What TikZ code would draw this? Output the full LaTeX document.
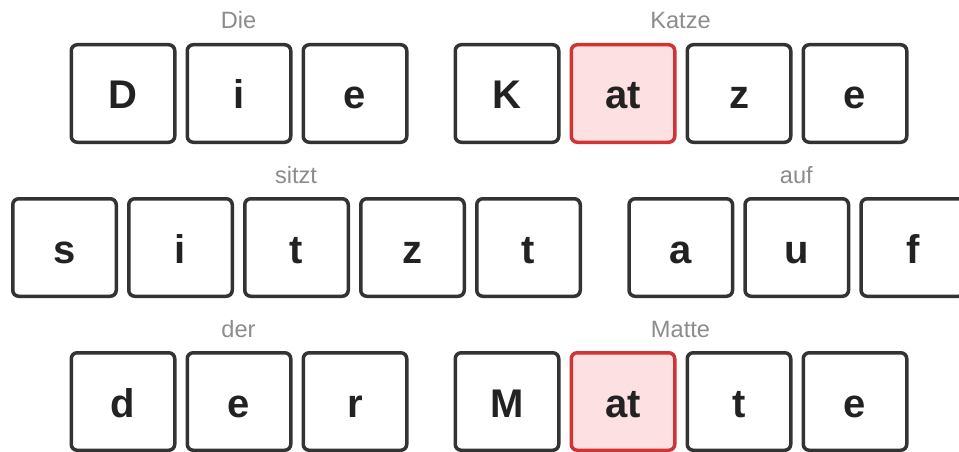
\documentclass[tikz,border=0pt]{standalone}
\usepackage{fontspec}
\setmainfont{Liberation Sans}
\definecolor{boxline}{HTML}{333333}
\definecolor{lettercol}{HTML}{222222}
\definecolor{hiline}{HTML}{D03434}
\definecolor{hifill}{HTML}{FDE0E1}
\definecolor{wordcol}{HTML}{8C8C8C}
\tikzset{
  tile/.style={draw=boxline, line width=3.5pt, rounded corners=6pt, fill=white,
    minimum width=103.5pt, minimum height=97.5pt, inner sep=0pt,
    text height=31pt, text depth=0pt, text=lettercol,
    font=\fontsize{40}{40}\selectfont\bfseries},
  hitile/.style={tile, draw=hiline, fill=hifill},
  word/.style={anchor=base, text=wordcol, inner sep=0pt,
    font=\fontsize{23.6}{24}\selectfont}
}
\begin{document}
\begin{tikzpicture}[x=1pt,y=1pt]
\useasboundingbox (0,0) rectangle (959,451);
\clip (0,0) rectangle (959,451);
\fill[white] (0,0) rectangle (959,451);
% row 1
\node[word] (wdie) at (238.5,422) {Die};
\node[word] (wkatze) at (680.5,422) {Katze};
\node[tile] (r1a) at (123,357.5) {D};
\node[tile] (r1b) at (239,357.5) {i};
\node[tile] (r1c) at (355,357.5) {e};
\node[tile] (r1d) at (507,357.5) {K};
\node[hitile] (r1e) at (623,357.5) {at};
\node[tile] (r1f) at (739,357.5) {z};
\node[tile] (r1g) at (855,357.5) {e};
% row 2
\node[word] (wsitzt) at (296,268) {sitzt};
\node[word] (wauf) at (796.3,268) {auf};
\node[tile] (r2a) at (64.5,203.5) {s};
\node[tile] (r2b) at (180.5,203.5) {i};
\node[tile] (r2c) at (296.5,203.5) {t};
\node[tile] (r2d) at (412.5,203.5) {z};
\node[tile] (r2e) at (528.5,203.5) {t};
\node[tile] (r2f) at (680.8,203.5) {a};
\node[tile] (r2g) at (796.8,203.5) {u};
\node[tile] (r2h) at (912.8,203.5) {f};
% row 3
\node[word] (wder) at (238.5,114) {der};
\node[word] (wmatte) at (680.5,114) {Matte};
\node[tile] (r3a) at (123,49.5) {d};
\node[tile] (r3b) at (239,49.5) {e};
\node[tile] (r3c) at (355,49.5) {r};
\node[tile] (r3d) at (507,49.5) {M};
\node[hitile] (r3e) at (623,49.5) {at};
\node[tile] (r3f) at (739,49.5) {t};
\node[tile] (r3g) at (855,49.5) {e};
\end{tikzpicture}
\end{document}
